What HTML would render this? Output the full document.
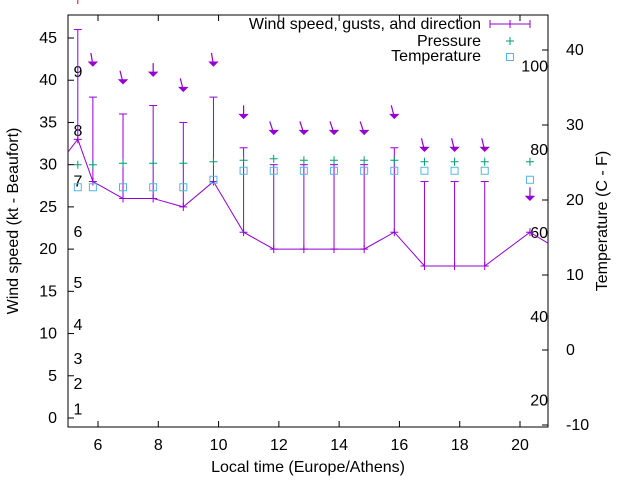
<!DOCTYPE html>
<html><head><meta charset="utf-8"><style>
body{margin:0;background:#fff}
text{font-family:"Liberation Sans",sans-serif;font-size:16px;fill:#000}
</style></head><body>
<svg id="chart" width="640" height="480" xmlns="http://www.w3.org/2000/svg">
<defs><clipPath id="clip"><rect x="68" y="15" width="480" height="412"/></clipPath></defs>
<g id="axes"></g>
<g id="marks"></g>
</svg>
<script>
const times=[5.33,5.83,6.83,7.83,8.83,9.83,10.83,11.83,12.83,13.83,14.83,15.83,16.83,17.83,18.83,20.33];
const wind=[33,28,26,26,25,28,22,20,20,20,20,22,18,18,18,22];
const gusts=[46,38,36,37,35,38,32,30,30,30,30,32,28,28,28,null];
const arrowTop=[49,41.8,39.7,40.6,38.8,41.8,35.6,33.7,33.7,33.7,33.7,35.6,31.7,31.7,31.7,25.9];
const tilt=[0,-2,-3,0,-3,-2,0,-4,-4,-4,-4,-3,-3,-3,-3,0];
const pressure=[24.7,24.7,24.9,24.9,24.9,25.1,25.3,25.5,25.3,25.3,25.3,25.3,25.1,25.1,25.1,25.1];
const temperature=[21.7,21.7,21.7,21.7,21.7,22.7,23.9,23.9,23.9,23.9,23.9,23.9,23.9,23.9,23.9,22.7];
const xTicks=[6,8,10,12,14,16,18,20];
const yTicks=[0,5,10,15,20,25,30,35,40,45];
const y2Ticks=[-10,0,10,20,30,40];
const beaufort=[[1,1],[2,4],[3,7],[4,11],[5,16],[6,22],[7,28],[8,34],[9,41]];
const fahr=[[20,-6.7],[40,4.4],[60,15.6],[80,26.7],[100,37.8]];
const L=68,R=548,T=15,B=427,P='#9400d3';
const X=t=>98+(t-6)*422/14;
const Y=v=>418-v*380/45;
const Y2=v=>50+(40-v)*7.5;
const NS='http://www.w3.org/2000/svg';
function mk(p,tag,at,txt){const e=document.createElementNS(NS,tag);for(const k in at)e.setAttribute(k,at[k]);if(txt!==undefined)e.textContent=txt;p.appendChild(e);return e;}
const ax=document.getElementById('axes'),mg=document.getElementById('marks');
let e=mk(ax,'rect',{x:L,y:T,width:R-L,height:B-T,fill:'none',stroke:'#000','stroke-width':1});

xTicks.forEach(t=>{mk(ax,'line',{x1:X(t),x2:X(t),y1:B,y2:B-6,stroke:'#000'});mk(ax,'line',{x1:X(t),x2:X(t),y1:T,y2:T+6,stroke:'#000'});
 e=mk(ax,'text',{x:X(t),y:450,'text-anchor':'middle'},t);});
yTicks.forEach(v=>{mk(ax,'line',{x1:L,x2:L+6,y1:Y(v),y2:Y(v),stroke:'#000'});
 e=mk(ax,'text',{x:57,y:Y(v)+5,'text-anchor':'end'},v);});
y2Ticks.forEach(v=>{mk(ax,'line',{x1:R,x2:R-6,y1:Y2(v),y2:Y2(v),stroke:'#000'});
 e=mk(ax,'text',{x:566,y:Y2(v)+5},v);});
beaufort.forEach(([n,v])=>{e=mk(ax,'text',{x:78,y:Y(v)+5,'text-anchor':'middle'},n);});
fahr.forEach(([f,c])=>{e=mk(ax,'text',{x:548,y:Y2(c)+5,'text-anchor':'end'},f);});
e=mk(ax,'text',{x:308,y:472,'text-anchor':'middle'},'Local time (Europe/Athens)');
e=mk(ax,'text',{x:0,y:0,'text-anchor':'middle',transform:'translate(18,221) rotate(-90)'},'Wind speed (kt - Beaufort)');
e=mk(ax,'text',{x:0,y:0,'text-anchor':'middle',transform:'translate(607,221) rotate(-90)'},'Temperature (C - F)');
const g=mk(mg,'g',{'clip-path':'url(#clip)'});
let pts=times.map((t,i)=>[X(t),Y(wind[i])]);
pts.unshift([L,Y(31.5)]);pts.push([R,Y(20.7)]);
e=mk(g,'polyline',{points:pts.map(p=>p.join(',')).join(' '),fill:'none',stroke:P,'stroke-width':1});

times.forEach((t,i)=>{const x=X(t);
 if(gusts[i]!==null){e=mk(g,'line',{x1:x,x2:x,y1:Y(gusts[i]),y2:Y(wind[i]),stroke:P});
  mk(g,'line',{x1:x-4,x2:x+4,y1:Y(gusts[i]),y2:Y(gusts[i]),stroke:P});}
 mk(g,'line',{x1:x-4,x2:x+4,y1:Y(wind[i]),y2:Y(wind[i]),stroke:P});mk(g,'line',{x1:x,x2:x,y1:Y(wind[i])-4,y2:Y(wind[i])+4,stroke:P});
 const ya=Y(arrowTop[i]),dx=tilt[i];
 e=mk(g,'path',{d:`M${x+dx},${ya-12}L${x},${ya}`,stroke:P,fill:'none','stroke-width':1.2});
 
 mk(g,'path',{d:`M${x-4},${ya-3}L${x+4},${ya-3}L${x},${ya+1}Z`,stroke:P,fill:P,'stroke-width':1});
 const yp=Y2(pressure[i]);
 e=mk(g,'path',{d:`M${x-4},${yp}H${x+4}M${x},${yp-4}V${yp+4}`,stroke:'#009e73'});
 const yt=Y2(temperature[i]);
 e=mk(g,'rect',{x:x-3.5,y:yt-3.5,width:7,height:7,fill:'none',stroke:'#56b4e9'});
});
mk(mg,'line',{x1:X(times[0]),x2:X(times[0]),y1:0,y2:4,stroke:P});
const lg=mk(mg,'g',{});
e=mk(lg,'text',{x:481,y:29,'text-anchor':'end'},'Wind speed, gusts, and direction');
mk(lg,'line',{x1:490,x2:530,y1:24,y2:24,stroke:P});mk(lg,'line',{x1:490,x2:490,y1:20,y2:28,stroke:P});mk(lg,'line',{x1:530,x2:530,y1:20,y2:28,stroke:P});mk(lg,'line',{x1:510,x2:510,y1:20,y2:28,stroke:P});
e=mk(lg,'text',{x:481,y:46,'text-anchor':'end'},'Pressure');
mk(lg,'path',{d:'M506,41H514M510,37V45',stroke:'#009e73'});
e=mk(lg,'text',{x:481,y:61,'text-anchor':'end'},'Temperature');
mk(lg,'rect',{x:506.5,y:53.5,width:7,height:7,fill:'none',stroke:'#56b4e9'});
</script>
</body></html>
